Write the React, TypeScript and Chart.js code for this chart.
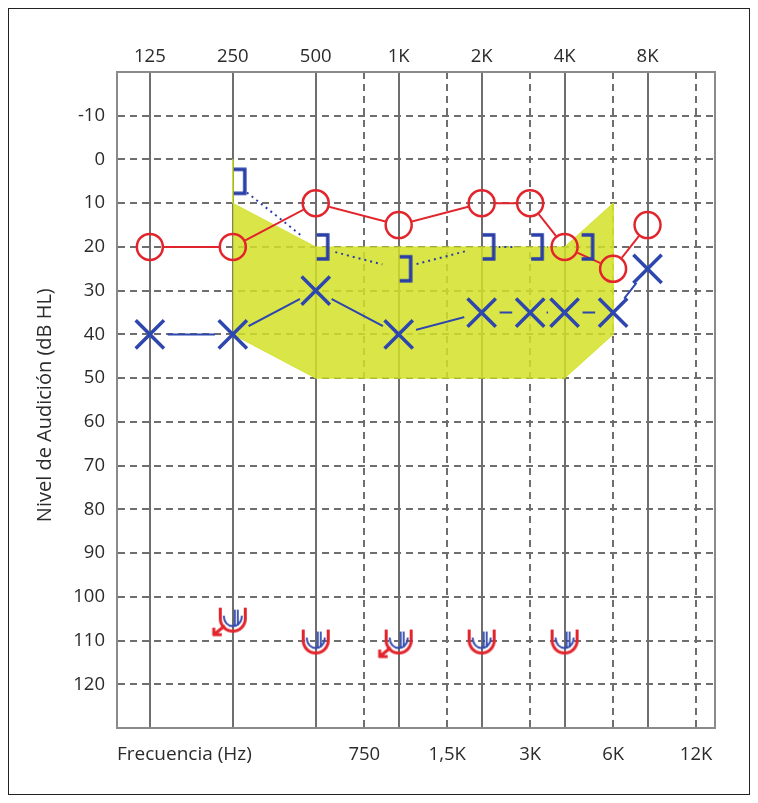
import React, { useEffect, useRef } from 'react';
import { Chart, registerables } from 'chart.js';

Chart.register(...registerables);

// ---- data ----
const octaveFreqs = [125, 250, 500, 1000, 2000, 4000, 8000];
const octaveLabels = ['125', '250', '500', '1K', '2K', '4K', '8K'];
const midFreqs = [750, 1500, 3000, 6000, 12000];
const midLabels = ['750', '1,5K', '3K', '6K', '12K'];
const levelTicks = [-10, 0, 10, 20, 30, 40, 50, 60, 70, 80, 90, 100, 110, 120];

const airFreqs = [125, 250, 500, 1000, 2000, 3000, 4000, 6000, 8000];
const rightAirDb = [20, 20, 10, 15, 10, 10, 20, 25, 15];
const leftAirDb = [40, 40, 30, 40, 35, 35, 35, 35, 25];

const boneFreqs = [250, 500, 1000, 2000, 3000, 4000];
const leftBoneDb = [5, 20, 25, 20, 20, 20];

const uclFreqs = [250, 500, 1000, 2000, 4000];
const rightUclDb = [105, 110, 110, 110, 110];
const leftUclDb = [105, 110, 110, 110, 110];
const uclNoResponse = [true, false, true, false, false];

const bananaFreqs = [250, 250, 500, 4000, 6000, 6000, 4000, 500, 250];
const bananaDb = [0, 10, 20, 20, 10, 40, 50, 50, 40];

const xTitle = 'Frecuencia (Hz)';
const yTitle = 'Nivel de Audición (dB HL)';

// ---- styles ----
const FONT = "'Open Sans', sans-serif";
const RED = '#e2252c';
const BLUE = '#2e47ae';
const BRACKET = '#2a3ea8';
const GRID = '#6e6e6e';
const BORDER = '#8a8a8a';
const TEXT = '#2b2b2b';
const YELLOW = 'rgba(212, 224, 40, 0.85)';

const pts = (xs: number[], ys: number[]) => xs.map((x, i) => ({ x, y: ys[i] }));

function makeCanvas(w: number, h: number, draw: (g: CanvasRenderingContext2D) => void) {
  const c = document.createElement('canvas');
  c.width = w;
  c.height = h;
  const g = c.getContext('2d') as CanvasRenderingContext2D;
  g.translate(w / 2, h / 2);
  draw(g);
  return c;
}

const gapClip = {
  id: 'gapClip',
  beforeDatasetDraw(chart: any, args: any) {
    const ds = chart.data.datasets[args.index];
    if (!ds.gap) return;
    const ctx = chart.ctx;
    ctx.save();
    ctx.beginPath();
    ctx.rect(0, 0, chart.width, chart.height);
    for (const el of args.meta.data) {
      ctx.moveTo(el.x + ds.gap, el.y);
      ctx.arc(el.x, el.y, ds.gap, 0, Math.PI * 2);
    }
    ctx.clip('evenodd');
  },
  afterDatasetDraw(chart: any, args: any) {
    const ds = chart.data.datasets[args.index];
    if (!ds.gap) return;
    chart.ctx.restore();
  },
};

export default function App() {
  const ref = useRef<HTMLCanvasElement>(null);

  useEffect(() => {
    if (!ref.current) return;

    const bracket = (dx: number) =>
      makeCanvas(2 * (dx + 16), 34, (g) => {
        g.strokeStyle = BRACKET;
        g.lineWidth = 3.5;
        g.lineJoin = 'miter';
        g.beginPath();
        g.moveTo(dx + 1, -12);
        g.lineTo(dx + 12, -12);
        g.lineTo(dx + 12, 12);
        g.lineTo(dx + 1, 12);
        g.stroke();
      });
    const bracketPlain = bracket(0);
    const bracketShifted = bracket(16);

    const redU = (arrow: boolean) =>
      makeCanvas(64, 64, (g) => {
        g.strokeStyle = RED;
        g.lineWidth = 3;
        g.beginPath();
        g.moveTo(-12.5, -11);
        g.lineTo(-12.5, 0);
        g.arc(0, 0, 12.5, Math.PI, 0, true);
        g.lineTo(12.5, -11);
        g.stroke();
        if (arrow) {
          g.beginPath();
          g.moveTo(-8, 7);
          g.lineTo(-19, 16);
          g.moveTo(-20, 16);
          g.lineTo(-11, 16);
          g.moveTo(-19, 17);
          g.lineTo(-19, 9);
          g.stroke();
        }
      });
    const redPlain = redU(false);
    const redArrow = redU(true);

    const blueU = makeCanvas(40, 40, (g) => {
      g.strokeStyle = BLUE;
      g.lineWidth = 1.8;
      g.beginPath();
      g.moveTo(-9, -3);
      g.bezierCurveTo(-9, 11, 9, 11, 9, -3);
      g.stroke();
      g.beginPath();
      g.moveTo(2, -9);
      g.lineTo(2, 7.5);
      g.moveTo(5, -9);
      g.lineTo(5, 7);
      g.stroke();
    });

    const tickFont = { family: FONT, size: 18.5 };

    const chart = new Chart(ref.current, {
      type: 'line',
      data: {
        datasets: [
          {
            data: pts(bananaFreqs, bananaDb),
            fill: 'shape',
            backgroundColor: YELLOW,
            borderColor: YELLOW,
            borderWidth: 1,
            pointRadius: 0,
            tension: 0,
            order: 10,
          },
          {
            data: pts(boneFreqs, leftBoneDb),
            borderColor: BRACKET,
            borderWidth: 2,
            borderDash: [2, 4],
            pointRadius: 0,
            fill: false,
            gap: 17,
            order: 6,
          } as any,
          {
            data: pts(airFreqs, rightAirDb),
            borderColor: RED,
            borderWidth: 2,
            pointRadius: 0,
            fill: false,
            gap: 14,
            order: 5,
          } as any,
          {
            data: pts(airFreqs, leftAirDb),
            borderColor: BLUE,
            borderWidth: 2,
            pointRadius: 0,
            fill: false,
            gap: 18,
            order: 5,
          } as any,
          {
            data: pts(boneFreqs, leftBoneDb),
            showLine: false,
            pointRadius: 10,
            pointStyle: (c: any) => (c.dataIndex === boneFreqs.length - 1 ? bracketShifted : bracketPlain),
            order: 3,
          },
          {
            data: pts(airFreqs, rightAirDb),
            showLine: false,
            pointStyle: 'circle',
            pointRadius: 13,
            pointBorderWidth: 2.5,
            pointBorderColor: RED,
            pointBackgroundColor: 'rgba(0,0,0,0)',
            order: 2,
          },
          {
            data: pts(airFreqs, leftAirDb),
            showLine: false,
            pointStyle: 'crossRot',
            pointRadius: 20,
            pointBorderWidth: 3.5,
            pointBorderColor: BLUE,
            order: 2,
          },
          {
            data: pts(uclFreqs, rightUclDb),
            showLine: false,
            pointRadius: 10,
            pointStyle: (c: any) => (uclNoResponse[c.dataIndex] ? redArrow : redPlain),
            order: 1,
          },
          {
            data: pts(uclFreqs, leftUclDb),
            showLine: false,
            pointRadius: 10,
            pointStyle: blueU,
            order: 0,
          },
        ] as any,
      },
      options: {
        animation: false,
        responsive: false,
        events: [],
        layout: { padding: { left: 0, right: 34.5, top: 0, bottom: 0 } },
        plugins: { legend: { display: false }, tooltip: { enabled: false } },
        scales: {
          x: {
            type: 'logarithmic',
            position: 'bottom',
            min: 95,
            max: 14000,
            afterBuildTicks: (s: any) => {
              s.ticks = midFreqs.map((v) => ({ value: v }));
            },
            afterFit: (s: any) => {
              s.height = 66;
            },
            ticks: {
              autoSkip: false,
              maxRotation: 0,
              padding: 15.4,
              font: tickFont,
              color: TEXT,
              callback: (v: any) => {
                const i = midFreqs.indexOf(Number(v));
                return i >= 0 ? midLabels[i] : '';
              },
            },
            grid: { drawTicks: false, color: GRID, lineWidth: 2 },
            border: { display: true, color: BORDER, width: 2, dash: [7, 5] },
            title: {
              display: true,
              text: xTitle,
              align: 'start',
              color: TEXT,
              font: { family: FONT, size: 19 },
              padding: { top: 0, bottom: 28 },
            },
          } as any,
          xTop: {
            type: 'logarithmic',
            position: 'top',
            min: 95,
            max: 14000,
            afterBuildTicks: (s: any) => {
              s.ticks = octaveFreqs.map((v) => ({ value: v }));
            },
            afterFit: (s: any) => {
              s.height = 63;
            },
            ticks: {
              autoSkip: false,
              maxRotation: 0,
              padding: 4.2,
              font: tickFont,
              color: TEXT,
              callback: (v: any) => {
                const i = octaveFreqs.indexOf(Number(v));
                return i >= 0 ? octaveLabels[i] : '';
              },
            },
            grid: { drawTicks: false, color: GRID, lineWidth: 2 },
            border: { display: true, color: BORDER, width: 2 },
          } as any,
          y: {
            type: 'linear',
            position: 'left',
            reverse: true,
            min: -20,
            max: 130,
            afterBuildTicks: (s: any) => {
              s.ticks = levelTicks.map((v) => ({ value: v }));
            },
            afterFit: (s: any) => {
              s.width = 108;
            },
            ticks: {
              padding: 12,
              font: tickFont,
              color: TEXT,
              callback: (v: any) => String(v),
            },
            grid: { drawTicks: false, color: GRID, lineWidth: 2 },
            border: { display: true, color: BORDER, width: 2, dash: [7, 5] },
            title: {
              display: true,
              text: yTitle + '  ',
              color: TEXT,
              font: { family: FONT, size: 20 },
              padding: { top: 24, bottom: 0 },
            },
          } as any,
          yRight: {
            type: 'linear',
            position: 'right',
            min: -20,
            max: 130,
            afterFit: (s: any) => {
              s.width = 0;
            },
            ticks: { display: false },
            grid: { drawOnChartArea: false, drawTicks: false },
            border: { display: true, color: BORDER, width: 2 },
          } as any,
        },
      },
      plugins: [gapClip as any],
    });

    return () => chart.destroy();
  }, []);

  return (
    <div
      style={{
        width: 742,
        height: 787,
        border: '1px solid #222',
        boxSizing: 'border-box',
        background: '#fff',
      }}
    >
      <canvas ref={ref} width={740} height={785} style={{ display: 'block' }} />
    </div>
  );
}
